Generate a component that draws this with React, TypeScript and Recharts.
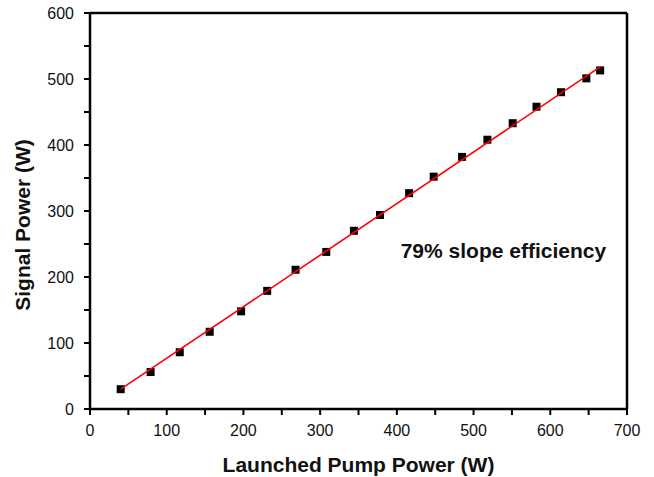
import React from "react";
import {
  ScatterChart,
  Scatter,
  XAxis,
  YAxis,
  ReferenceLine,
  ReferenceDot,
} from "recharts";

// values
const pumpPower = [40, 79, 117, 156, 197, 231, 268, 308, 344, 378, 416, 448, 485, 518, 551, 582, 614, 647, 665];
const signalPower = [30, 56, 86, 117, 148, 179, 211, 238, 270, 294, 327, 352, 382, 408, 433, 458, 480, 501, 513];

// linear fit end points
const fitPump = [40, 666];
const fitSignal = [30, 519];

const xTicks = [0, 50, 100, 150, 200, 250, 300, 350, 400, 450, 500, 550, 600, 650, 700];
const yTicks = [0, 50, 100, 150, 200, 250, 300, 350, 400, 450, 500, 550, 600];

const measured = pumpPower.map((x, i) => ({ x, y: signalPower[i] }));
const fitLine = fitPump.map((x, i) => ({ x, y: fitSignal[i] }));

const FONT = "'Liberation Sans', Arial, sans-serif";
const AXIS = "#000";

const majorOnly = (v: number) => (v % 100 === 0 ? String(v) : "");

function SquareMark(props: any) {
  const { cx, cy } = props;
  if (cx == null || cy == null) return <g />;
  return <rect x={cx - 4} y={cy - 4} width={8} height={8} fill="#000" />;
}

function XLabel(props: any) {
  const vb = props.viewBox || {};
  return (
    <text
      x={vb.x + vb.width / 2}
      y={vb.y + 63}
      textAnchor="middle"
      fontFamily={FONT}
      fontWeight="bold"
      fontSize={21}
      fill="#111"
    >
      Launched Pump Power (W)
    </text>
  );
}

function YLabel(props: any) {
  const vb = props.viewBox || {};
  const cx = 30;
  const cy = vb.y + vb.height / 2 + 14;
  return (
    <text
      x={cx}
      y={cy}
      transform={`rotate(-90, ${cx}, ${cy})`}
      textAnchor="middle"
      fontFamily={FONT}
      fontWeight="bold"
      fontSize={21}
      fill="#111"
    >
      Signal Power (W)
    </text>
  );
}

function NoteLabel(props: any) {
  const vb = props.viewBox || {};
  return (
    <text
      x={vb.x}
      y={vb.y}
      fontFamily={FONT}
      fontWeight="bold"
      fontSize={21}
      fill="#111"
    >
      79% slope efficiency
    </text>
  );
}

export default function App() {
  const tickStyle = { fontFamily: FONT, fontSize: 16, fill: "#111" };
  return (
    <div style={{ position: "absolute", left: 0, top: 0, background: "#fff" }}>
      <ScatterChart
        width={654}
        height={477}
        margin={{ top: 13, right: 27, left: 0, bottom: 0 }}
      >
        <XAxis
          type="number"
          dataKey="x"
          domain={[0, 700]}
          ticks={xTicks}
          interval={0}
          tickFormatter={majorOnly}
          allowDataOverflow
          height={68}
          tickSize={6}
          tickMargin={10}
          tick={tickStyle}
          axisLine={{ stroke: AXIS, strokeWidth: 2.5 }}
          tickLine={{ stroke: AXIS, strokeWidth: 2 }}
          label={<XLabel />}
        />
        <YAxis
          type="number"
          dataKey="y"
          domain={[0, 600]}
          ticks={yTicks}
          interval={0}
          tickFormatter={majorOnly}
          allowDataOverflow
          width={90}
          tickSize={6}
          tickMargin={10}
          tick={tickStyle}
          axisLine={{ stroke: AXIS, strokeWidth: 2.5 }}
          tickLine={{ stroke: AXIS, strokeWidth: 2 }}
          label={<YLabel />}
        />
        <ReferenceLine y={600} stroke={AXIS} strokeWidth={2.5} />
        <ReferenceLine x={700} stroke={AXIS} strokeWidth={2.5} />
        <Scatter
          data={measured}
          shape={<SquareMark />}
          isAnimationActive={false}
        />
        <Scatter
          data={fitLine}
          line={{ stroke: "#ff0000", strokeWidth: 1.6 }}
          shape={() => <g />}
          isAnimationActive={false}
        />
        <ReferenceDot
          x={405}
          y={229}
          r={0}
          fill="none"
          stroke="none"
          label={<NoteLabel />}
        />
      </ScatterChart>
    </div>
  );
}
